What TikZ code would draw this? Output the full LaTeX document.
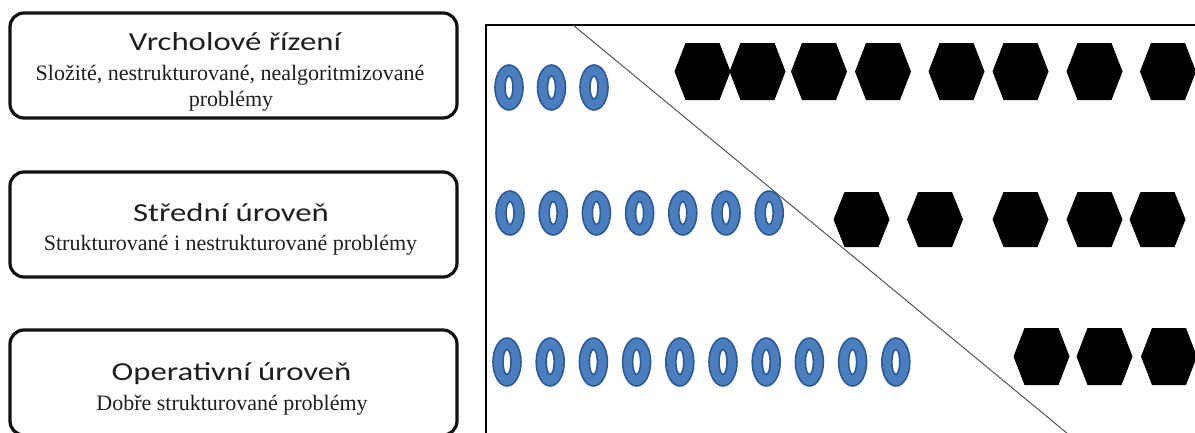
\documentclass[tikz,border=0pt]{standalone}
\usepackage{fontspec}
\setmainfont{Liberation Serif}
\newfontfamily\titlefont[FakeStretch=1.26]{Carlito}
\definecolor{ringfill}{HTML}{4A7EBF}
\definecolor{ringline}{HTML}{2E5A94}
\definecolor{boxline}{HTML}{111111}
\definecolor{diagline}{HTML}{555555}
\begin{document}
\begin{tikzpicture}[x=1pt,y=-1pt,
  levelbox/.style={draw=boxline, line width=3.2pt, rounded corners=14pt, fill=white,
    minimum width=447pt, minimum height=105pt, inner sep=0pt},
  titletext/.style={anchor=base, inner sep=0pt, font=\titlefont\fontsize{26}{30}\selectfont, text=black!88},
  subtext/.style={anchor=base, inner sep=0pt, font=\fontsize{22}{26}\selectfont, text=black!88},
  frameline/.style={draw=black, line width=2.8pt},
  diag/.style={draw=diagline, line width=1pt},
  ring/.style={fill=ringfill, draw=ringline, line width=1.6pt, even odd rule},
  hexa/.style={fill=black}
]
\useasboundingbox (0,0) rectangle (1195,432);
\clip (0,0) rectangle (1195,432);

% left level boxes
\node[levelbox] (b1) at (233.5,65.5) {};
\node[levelbox] (b2) at (233.5,224.5) {};
\node[levelbox] (b3) at (233.5,382.5) {};

\node[titletext] (t1) at (235,50) {Vrcholové řízení};
\node[subtext] (s1a) at (230,80) {Složité, nestrukturované, nealgoritmizované};
\node[subtext] (s1b) at (231,106) {problémy};

\node[titletext] (t2) at (231,221) {Střední úroveň};
\node[subtext] (s2) at (230.5,250) {Strukturované i nestrukturované problémy};

\node[titletext] (t3) at (231.5,380) {Operativní úroveň};
\node[subtext] (s3) at (232,410) {Dobře strukturované problémy};

% right panel frame
\coordinate (fbl) at (486,445);
\coordinate (ftl) at (486,25);
\coordinate (ftr) at (1210,25);
\draw[frameline] (fbl) -- (ftl) -- (ftr);

% diagonal
\coordinate (dtop) at (573,25);
\coordinate (dbot) at (1068,434);
\draw[diag] (dtop) -- (dbot);

% rings
\foreach \k in {0,1,2}
  \path[ring] ({509+42.5*\k},87.5) ellipse [x radius=14, y radius=22.5]
              ({509+42.5*\k},87.5) ellipse [x radius=4, y radius=11.5];
\foreach \k in {0,...,6}
  \path[ring] ({510+43.2*\k},213) ellipse [x radius=14, y radius=22]
              ({510+43.2*\k},213) ellipse [x radius=4, y radius=11.5];
\foreach \k in {0,...,9}
  \path[ring] ({507+43.2*\k},362) ellipse [x radius=14, y radius=24]
              ({507+43.2*\k},362) ellipse [x radius=4, y radius=12.5];

% hexagons
\foreach \cx in {702.5,757.5,819,883,956.5,1020.5,1094.5,1168}
  \path[hexa] ({\cx-28},71.5) -- ({\cx-17},43) -- ({\cx+17},43) -- ({\cx+28},71.5)
              -- ({\cx+17},100) -- ({\cx-17},100) -- cycle;
\foreach \cx in {861.5,935,1020.5,1094.5,1157.5}
  \path[hexa] ({\cx-28},219.5) -- ({\cx-17},192) -- ({\cx+17},192) -- ({\cx+28},219.5)
              -- ({\cx+17},247) -- ({\cx-17},247) -- cycle;
\foreach \cx in {1041.5,1104.5,1169}
  \path[hexa] ({\cx-28},356.5) -- ({\cx-17},328) -- ({\cx+17},328) -- ({\cx+28},356.5)
              -- ({\cx+17},385) -- ({\cx-17},385) -- cycle;
\end{tikzpicture}
\end{document}
